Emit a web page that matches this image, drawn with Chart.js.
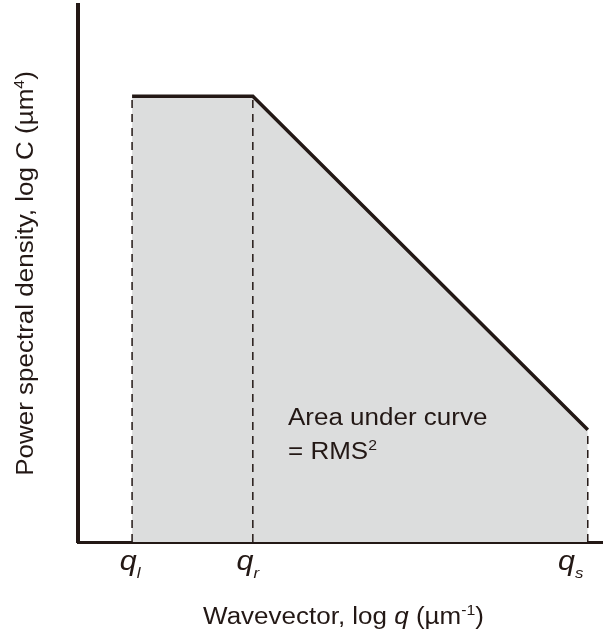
<!DOCTYPE html>
<html>
<head>
<meta charset="utf-8">
<script src="https://cdn.jsdelivr.net/npm/chart.js@4.4.0/dist/chart.umd.min.js"></script>
<style>
  html, body { margin: 0; padding: 0; background: #fff; }
  #wrap { width: 603px; height: 635px; position: relative; }
</style>
</head>
<body>
<div id="wrap"><canvas id="psdChart"></canvas></div>
<script>
(function () {

  // log q positions of the three corner wavevectors (arbitrary log units)
  const qValues   = [1.03, 3.33, 9.71];
  const qSubs     = ["l", "r", "s"];
  // log C at those wavevectors (plateau, then power-law roll-off)
  const logC      = [8.3, 8.3, 2.09];
  const xRange    = [0, 10];
  const yRange    = [0, 10];

  const ink  = "#231815";
  const fill = "#dcdddd";
  const FONT = "'Liberation Sans', Arial, Helvetica, sans-serif";
  const STRETCH = 1.13;

  const curve = qValues.map((q, i) => ({ x: q, y: logC[i] }));

  const datasets = [
    {
      label: "PSD",
      data: curve,
      borderColor: ink,
      borderWidth: 3.5,
      backgroundColor: fill,
      fill: "start",
      pointRadius: 0,
      tension: 0,
      borderJoinStyle: "miter",
      clip: false
    }
  ];

  // dashed drop lines from each corner down to the axis
  qValues.forEach((q, i) => {
    datasets.push({
      label: "drop " + qSubs[i],
      data: [{ x: q, y: yRange[0] }, { x: q, y: logC[i] }],
      borderColor: ink,
      borderWidth: 1.5,
      borderDash: [8, 6],
      fill: false,
      pointRadius: 0
    });
  });

  // draw a row of text runs (mixed italic / sub / superscript)
  function drawRuns(ctx, runs, x, y, align) {
    let w = 0;
    runs.forEach(r => { ctx.font = r.font; w += ctx.measureText(r.t).width; });
    ctx.save();
    ctx.translate(x, y);
    ctx.scale(STRETCH, 1);
    let cx = align === "center" ? -w / 2 : (align === "right" ? -w : 0);
    ctx.textAlign = "left";
    ctx.textBaseline = "alphabetic";
    runs.forEach(r => {
      ctx.font = r.font;
      ctx.fillText(r.t, cx, r.dy || 0);
      cx += ctx.measureText(r.t).width;
    });
    ctx.restore();
  }

  const labelsPlugin = {
    id: "psdLabels",
    afterDraw(chart) {
      const ctx = chart.ctx;
      const xs = chart.scales.x;
      const ys = chart.scales.y;
      const area = chart.chartArea;
      ctx.fillStyle = ink;

      const reg  = "23px " + FONT;
      const ital = "italic 23px " + FONT;
      const sub  = "italic 15px " + FONT;
      const sup  = "14px " + FONT;

      // q tick labels
      const nudge = [-2, -5, -17];
      qValues.forEach((q, i) => {
        const px = xs.getPixelForValue(q) + nudge[i];
        drawRuns(ctx, [
          { t: "q", font: "italic 27px " + FONT },
          { t: qSubs[i], font: sub, dy: 8 }
        ], px, area.bottom + 28, "center");
      });

      // x axis title
      drawRuns(ctx, [
        { t: "Wavevector, log ", font: reg },
        { t: "q", font: ital },
        { t: " (\u00b5m", font: reg },
        { t: "-1", font: sup, dy: -9 },
        { t: ")", font: reg }
      ], (area.left + area.right) / 2 + 3, area.bottom + 82, "center");

      // y axis title (rotated)
      ctx.save();
      ctx.translate(33, (area.top + area.bottom) / 2);
      ctx.rotate(-Math.PI / 2);
      drawRuns(ctx, [
        { t: "Power spectral density, log C (\u00b5m", font: reg },
        { t: "4", font: sup, dy: -9 },
        { t: ")", font: reg }
      ], 0, 0, "center");
      ctx.restore();

      // annotation inside the shaded area
      const ax = xs.getPixelForValue(4.0);
      const ay = ys.getPixelForValue(2.18);
      drawRuns(ctx, [{ t: "Area under curve", font: reg }], ax, ay, "left");
      drawRuns(ctx, [
        { t: "= RMS", font: reg },
        { t: "2", font: sup, dy: -9 }
      ], ax, ay + 34, "left");
    }
  };

  new Chart(document.getElementById("psdChart"), {
    type: "line",
    data: { datasets },
    options: {
      responsive: true,
      maintainAspectRatio: false,
      animation: false,
      layout: { padding: { left: 78, right: 0, top: 5, bottom: 93 } },
      scales: {
        x: {
          type: "linear",
          min: xRange[0],
          max: xRange[1],
          ticks: { display: false },
          grid: { display: false, drawTicks: false },
          border: { display: true, width: 3, color: ink }
        },
        y: {
          type: "linear",
          min: yRange[0],
          max: yRange[1],
          ticks: { display: false },
          grid: { display: false, drawTicks: false },
          border: { display: true, width: 4, color: ink }
        }
      },
      plugins: {
        legend: { display: false },
        tooltip: { enabled: false },
        filler: { drawTime: "beforeDatasetsDraw" }
      }
    },
    plugins: [labelsPlugin]
  });

})();
</script>
</body>
</html>
